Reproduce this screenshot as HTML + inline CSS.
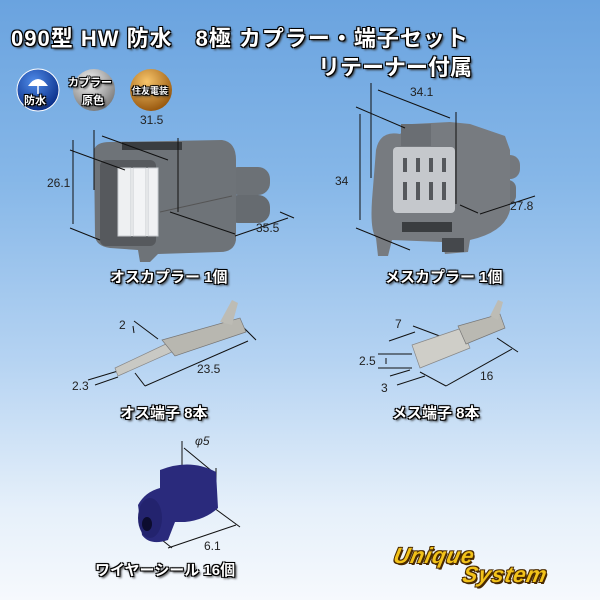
<!DOCTYPE html>
<html><head><meta charset="utf-8"><style>
html,body{margin:0;padding:0}
body{width:600px;height:600px;overflow:hidden;position:relative;background:linear-gradient(180deg,#6aa3df 0%,#86b7e8 30%,#b5d3f2 60%,#e6f0fa 85%,#f6f9fd 100%);font-family:"Liberation Sans","Noto Sans CJK JP",sans-serif}
.t{position:absolute;color:#fff;font-weight:bold;white-space:nowrap;font-family:"Liberation Sans","Noto Sans CJK JP",sans-serif;
text-shadow:-1px -1px 0 #000,1px -1px 0 #000,-1px 1px 0 #000,1px 1px 0 #000,0 0 2px #000,2px 2px 2px #333}
.d{position:absolute;font-size:12px;color:#222;white-space:nowrap}
svg{position:absolute;left:0;top:0}
</style></head><body>
<svg width="600" height="600" viewBox="0 0 600 600">
<defs>
<radialGradient id="b1" cx="0.4" cy="0.3" r="0.7"><stop offset="0" stop-color="#4f8be8"/><stop offset="1" stop-color="#0a2f8a"/></radialGradient>
<radialGradient id="b2" cx="0.4" cy="0.3" r="0.7"><stop offset="0" stop-color="#f4f4f4"/><stop offset="1" stop-color="#7d7d7d"/></radialGradient>
<radialGradient id="b3" cx="0.4" cy="0.3" r="0.7"><stop offset="0" stop-color="#f8c56a"/><stop offset="1" stop-color="#9a5a10"/></radialGradient>
</defs>
<circle cx="38" cy="90" r="21" fill="url(#b1)" stroke="#fff" stroke-width="1"/>
<circle cx="94" cy="90" r="21" fill="url(#b2)"/>
<circle cx="151" cy="90" r="21" fill="url(#b3)"/>
<path d="M28 86 q10 -14 20 0 z" fill="#fff"/><line x1="38" y1="84" x2="38" y2="94" stroke="#fff" stroke-width="1.5"/>
<!-- male coupler -->
<g>
<rect x="226" y="167" width="44" height="28" rx="12" fill="#6c7176"/>
<rect x="226" y="195" width="44" height="28" rx="12" fill="#666b70"/>
<path d="M94 150 Q96 142 110 142 L222 140 Q236 142 236 160 L236 240 Q234 252 220 252 L158 254 L150 262 L140 262 L138 250 L110 248 Q96 246 95 236 Z" fill="#6e7378"/>
<rect x="122" y="142" width="60" height="8" fill="#3a3d40"/>
<rect x="100" y="160" width="56" height="86" rx="6" fill="#56595d"/>
<rect x="118" y="168" width="40" height="68" fill="#fff"/>
<rect x="118" y="168" width="13" height="68" fill="#eef0f2" stroke="#c8ccd0" stroke-width="1"/>
<rect x="133" y="168" width="13" height="68" fill="#f3f4f6" stroke="#c8ccd0" stroke-width="1"/>
<rect x="148" y="168" width="10" height="68" fill="#f0f1f3" stroke="#c8ccd0" stroke-width="1"/>
<line x1="160" y1="212" x2="232" y2="196" stroke="#555" stroke-width="1"/>
</g>
<!-- female coupler -->
<g>
<rect x="500" y="155" width="20" height="24" rx="10" fill="#74787d"/>
<rect x="500" y="180" width="16" height="24" rx="8" fill="#6e7378"/>
<path d="M376 150 Q380 130 400 134 L412 124 L450 122 L470 124 L505 136 L510 150 L510 210 Q505 232 470 240 L468 252 L445 254 L442 242 L392 240 L388 256 L378 256 L376 238 Q370 230 372 200 Z" fill="#777b80"/>
<rect x="401" y="124" width="30" height="22" fill="#6a6e73"/>
<rect x="393" y="147" width="62" height="66" rx="4" fill="#c5c8cc"/>
<g fill="#55585c">
<rect x="403" y="158" width="4" height="14"/><rect x="416" y="158" width="4" height="14"/><rect x="429" y="158" width="4" height="14"/><rect x="442" y="158" width="4" height="14"/>
<rect x="403" y="182" width="4" height="18"/><rect x="416" y="182" width="4" height="18"/><rect x="429" y="182" width="4" height="18"/><rect x="442" y="182" width="4" height="18"/>
</g>
<rect x="402" y="222" width="50" height="10" fill="#3a3d40"/>
<rect x="442" y="238" width="22" height="14" fill="#45484c"/>
</g>
<!-- dimension lines -->
<g stroke="#111" stroke-width="1" fill="none">
<line x1="94" y1="130" x2="94" y2="190"/>
<line x1="102" y1="136" x2="168" y2="160"/>
<line x1="70" y1="150" x2="125" y2="170"/>
<line x1="73" y1="140" x2="73" y2="224"/>
<line x1="70" y1="228" x2="100" y2="240"/>
<line x1="178" y1="138" x2="178" y2="212"/>
<line x1="170" y1="212" x2="235" y2="234"/>
<line x1="235" y1="236" x2="288" y2="218"/>
<line x1="280" y1="212" x2="294" y2="218"/>
<line x1="371" y1="83" x2="371" y2="178"/>
<line x1="378" y1="90" x2="450" y2="118"/>
<line x1="356" y1="107" x2="405" y2="128"/>
<line x1="456" y1="112" x2="456" y2="204"/>
<line x1="360" y1="114" x2="360" y2="220"/>
<line x1="356" y1="228" x2="410" y2="250"/>
<line x1="460" y1="205" x2="478" y2="213"/>
<line x1="480" y1="214" x2="535" y2="196"/>
<line x1="88" y1="380" x2="118" y2="371"/><line x1="95" y1="385" x2="118" y2="377"/>
<line x1="135" y1="373" x2="145" y2="386"/><line x1="145" y1="386" x2="248" y2="341"/><line x1="240" y1="324" x2="256" y2="340"/>
<line x1="134" y1="321" x2="158" y2="339"/><line x1="133" y1="326" x2="134" y2="333"/>
<line x1="413" y1="326" x2="445" y2="338"/><line x1="389" y1="341" x2="415" y2="332"/>
<line x1="378" y1="354" x2="412" y2="354"/><line x1="378" y1="368" x2="412" y2="368"/><line x1="386" y1="358" x2="386" y2="364"/>
<line x1="397" y1="385" x2="425" y2="376"/><line x1="390" y1="376" x2="410" y2="370"/>
<line x1="420" y1="372" x2="446" y2="386"/><line x1="446" y1="386" x2="512" y2="349"/><line x1="497" y1="338" x2="518" y2="352"/>
<line x1="182" y1="441" x2="182" y2="475"/><line x1="184" y1="448" x2="213" y2="472"/><line x1="216" y1="468" x2="216" y2="490"/>
<line x1="210" y1="505" x2="240" y2="527"/><line x1="168" y1="548" x2="236" y2="525"/><line x1="162" y1="540" x2="172" y2="548"/>
</g>
<path d="M115 368 L168 343 L172 352 L118 376 Z" fill="#c9c9c4" stroke="#888" stroke-width="0.7"/>
<path d="M162 340 L240 318 L246 332 L175 356 Z" fill="#b8b7b0" stroke="#777" stroke-width="0.7"/>
<path d="M220 322 L232 300 L238 303 L232 325 Z" fill="#bdbcb5"/>
<path d="M412 345 L462 328 L470 348 L420 368 Z" fill="#cfcec8" stroke="#888" stroke-width="0.7"/>
<path d="M458 326 L500 314 L505 328 L466 344 Z" fill="#bab9b2" stroke="#777" stroke-width="0.7"/>
<path d="M490 316 L498 300 L503 302 L498 320 Z" fill="#bdbcb5"/>
<path d="M160 470 Q190 458 216 472 L218 508 Q205 520 185 522 L175 522 L168 540 Q150 546 142 535 L138 505 Q145 492 160 488 Z" fill="#2a2a7c"/>
<ellipse cx="150" cy="518" rx="12" ry="20" fill="#23236e"/>
<ellipse cx="147" cy="524" rx="5" ry="7" fill="#0c0c2e"/>
</svg>
<div class="t" style="left:11px;top:21px;font-size:22px;letter-spacing:1px">090型 HW 防水　8極 カプラー・端子セット</div>
<div class="t" style="left:318px;top:50px;font-size:22px">リテーナー付属</div>
<div class="t" style="left:24px;top:92px;font-size:11px">防水</div>
<div class="t" style="left:68px;top:74px;font-size:11px">カプラー</div>
<div class="t" style="left:82px;top:92px;font-size:11px">原色</div>
<div class="t" style="left:132px;top:84px;font-size:9px">住友電装</div>
<div class="d" style="left:140px;top:113px">31.5</div>
<div class="d" style="left:47px;top:176px">26.1</div>
<div class="d" style="left:256px;top:221px">35.5</div>
<div class="d" style="left:410px;top:85px">34.1</div>
<div class="d" style="left:335px;top:174px">34</div>
<div class="d" style="left:510px;top:199px">27.8</div>
<div class="t" style="left:110px;top:266px;font-size:15px">オスカプラー 1個</div>
<div class="t" style="left:385px;top:266px;font-size:15px">メスカプラー 1個</div>
<div class="d" style="left:119px;top:318px">2</div>
<div class="d" style="left:197px;top:362px">23.5</div>
<div class="d" style="left:72px;top:379px">2.3</div>
<div class="d" style="left:395px;top:317px">7</div>
<div class="d" style="left:359px;top:354px">2.5</div>
<div class="d" style="left:381px;top:381px">3</div>
<div class="d" style="left:480px;top:369px">16</div>
<div class="t" style="left:120px;top:402px;font-size:15px">オス端子 8本</div>
<div class="t" style="left:392px;top:402px;font-size:15px">メス端子 8本</div>
<div class="d" style="left:195px;top:434px;font-style:italic">φ5</div>
<div class="d" style="left:204px;top:539px">6.1</div>
<div class="t" style="left:95px;top:559px;font-size:15px">ワイヤーシール 16個</div>
<div style="position:absolute;left:394px;top:543px;font:italic bold 22px 'Liberation Sans',sans-serif;color:#f2c21a;letter-spacing:1px;transform:skewX(-12deg);text-shadow:-1px -1px 0 #4a2a00,1px 1px 0 #4a2a00,2px 2px 0 #4a2a00,1px -1px 0 #4a2a00,-1px 1px 0 #4a2a00">Unique</div>
<div style="position:absolute;left:463px;top:562px;font:italic bold 22px 'Liberation Sans',sans-serif;color:#f2c21a;letter-spacing:1px;transform:skewX(-12deg);text-shadow:-1px -1px 0 #4a2a00,1px 1px 0 #4a2a00,2px 2px 0 #4a2a00,1px -1px 0 #4a2a00,-1px 1px 0 #4a2a00">System</div>
</body></html>
